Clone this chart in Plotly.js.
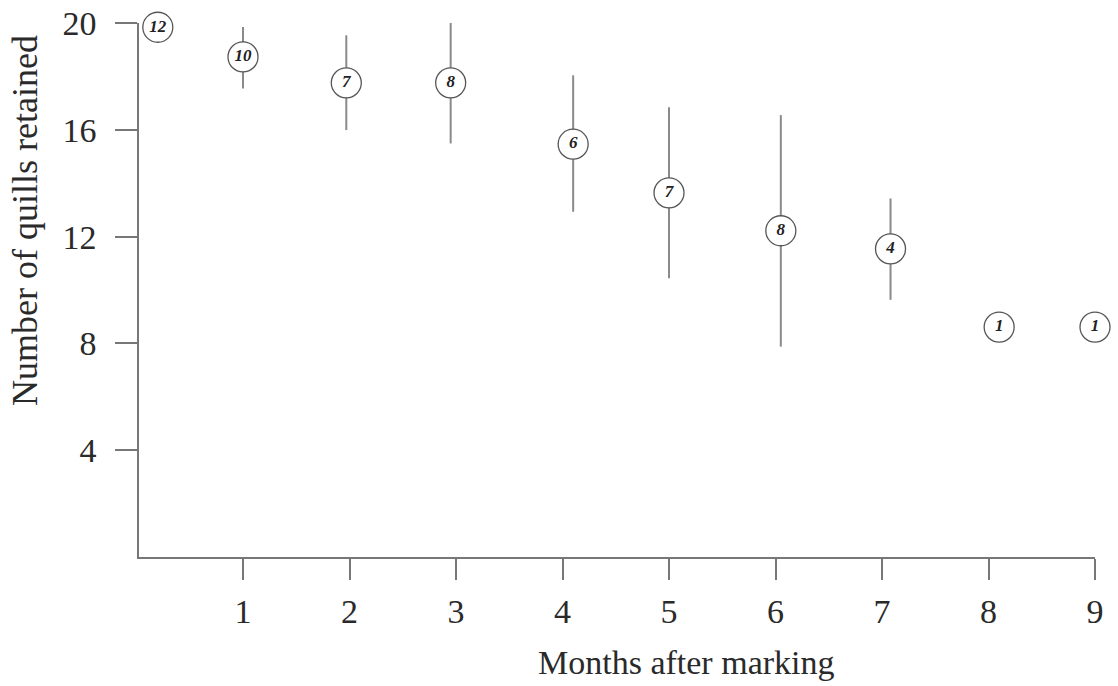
<!DOCTYPE html>
<html>
<head>
<meta charset="utf-8">
<script src="https://cdn.plot.ly/plotly-3.0.1.min.js"></script>
<style>
  html, body { margin: 0; padding: 0; background: #ffffff; }
  #chart { width: 1118px; height: 686px; }
</style>
</head>
<body>
<div id="chart"></div>
<script>
// Months after marking (points slightly offset as in the original figure)
const months = [0.20, 1.00, 1.97, 2.95, 4.10, 5.00, 6.05, 7.08, 8.10, 9.00];
// Mean number of quills retained
const meanQuills = [19.84, 18.73, 17.76, 17.76, 15.46, 13.64, 12.22, 11.54, 8.61, 8.61];
// Upper and lower ends of the vertical bars
const upperQuills = [19.84, 19.85, 19.54, 20.04, 18.04, 16.84, 16.55, 13.43, 8.61, 8.61];
const lowerQuills = [19.84, 17.55, 15.99, 15.49, 12.93, 10.44, 7.88, 9.63, 8.61, 8.61];
// Sample sizes written inside the circles
const sampleSizes = ["12", "10", "7", "8", "6", "7", "8", "4", "1", "1"];

const xTicks = [1, 2, 3, 4, 5, 6, 7, 8, 9];
const yTicks = [4, 8, 12, 16, 20];

const errPlus = upperQuills.map((u, i) => u - meanQuills[i]);
const errMinus = lowerQuills.map((l, i) => meanQuills[i] - l);

const serif = "Liberation Serif, Times New Roman, serif";

const trace = {
  type: "scatter",
  mode: "markers+text",
  x: months,
  y: meanQuills,
  text: sampleSizes,
  textposition: "middle center",
  textfont: { family: serif, size: 17, color: "#222222", style: "italic", weight: "bold" },
  marker: {
    symbol: "circle",
    size: 30,
    color: "#ffffff",
    line: { color: "#555555", width: 1.3 }
  },
  error_y: {
    type: "data",
    symmetric: false,
    array: errPlus,
    arrayminus: errMinus,
    color: "#8a8a8a",
    thickness: 2,
    width: 0
  },
  cliponaxis: false,
  hoverinfo: "x+y"
};

const layout = {
  width: 1118,
  height: 686,
  margin: { l: 139, r: 23, t: 23, b: 128.5, pad: 0 },
  paper_bgcolor: "#ffffff",
  plot_bgcolor: "#ffffff",
  showlegend: false,
  font: { family: serif, color: "#2a2a2a" },
  xaxis: {
    range: [0.0235, 9],
    tickvals: xTicks,
    ticktext: xTicks.map(String),
    ticks: "outside",
    ticklen: 21,
    tickwidth: 1.5,
    tickcolor: "#777777",
    showline: true,
    linecolor: "#777777",
    linewidth: 1.5,
    showgrid: false,
    zeroline: false,
    tickfont: { family: serif, size: 34, color: "#2a2a2a" },
    ticklabelstandoff: 2
  },
  yaxis: {
    range: [0, 20],
    tickvals: yTicks,
    ticktext: yTicks.map(String),
    ticks: "outside",
    ticklen: 22,
    tickwidth: 1.5,
    tickcolor: "#777777",
    showline: true,
    linecolor: "#777777",
    linewidth: 1.5,
    showgrid: false,
    zeroline: false,
    tickfont: { family: serif, size: 34, color: "#2a2a2a" },
    ticklabelstandoff: 12
  },
  annotations: [
    {
      text: "Months after marking",
      xref: "paper", yref: "paper",
      x: (686 - 139) / 956, y: -(663 - 557.5) / 534.8,
      xanchor: "center", yanchor: "middle",
      showarrow: false,
      font: { family: serif, size: 34, color: "#2a2a2a" }
    },
    {
      text: "Number of quills retained",
      xref: "paper", yref: "paper",
      x: -(139 - 25) / 956, y: (557.5 - 221) / 534.8,
      xanchor: "center", yanchor: "middle",
      textangle: -90,
      showarrow: false,
      font: { family: serif, size: 36, color: "#2a2a2a" }
    }
  ]
};

Plotly.newPlot("chart", [trace], layout, { displayModeBar: false, responsive: false });
</script>
</body>
</html>
